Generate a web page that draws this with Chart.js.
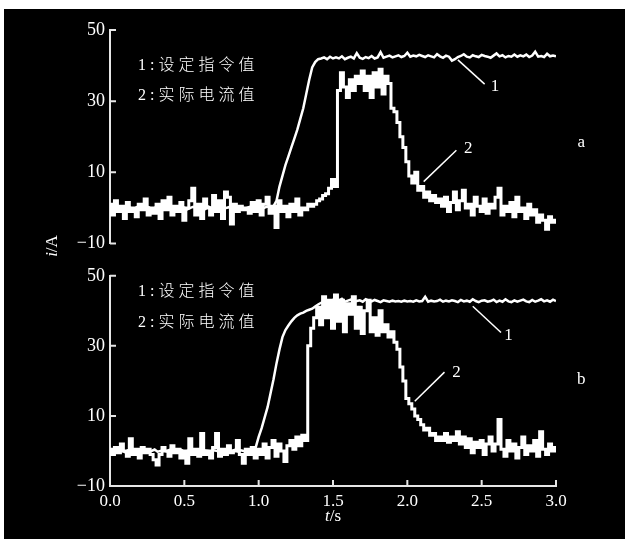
<!DOCTYPE html>
<html><head><meta charset="utf-8">
<script src="https://cdn.jsdelivr.net/npm/chart.js@4.4.1/dist/chart.umd.min.js"></script>
<style>
html,body{margin:0;padding:0;background:#fff;width:625px;height:539px;overflow:hidden;position:relative}
#bg{position:absolute;left:4px;top:9px;width:621px;height:530px;background:#000}
canvas{position:absolute;left:0}
#c1{top:0}
#c2{top:260px}
.txt{position:absolute;color:#fff;font-family:"Liberation Serif","Noto Sans CJK SC",serif;white-space:nowrap}
.leg{font-size:16px;letter-spacing:4px;line-height:20px;left:138px;font-weight:300}
.ax{font-size:17px;width:50px;height:20px;line-height:20px;text-align:center}
</style></head>
<body>
<div id="bg"></div>
<canvas id="c1" width="625" height="260"></canvas>
<canvas id="c2" width="625" height="279"></canvas>
<div class="txt leg" style="top:55px">1:设定指令值</div>
<div class="txt leg" style="top:85px">2:实际电流值</div>
<div class="txt leg" style="top:281px">1:设定指令值</div>
<div class="txt leg" style="top:312px">2:实际电流值</div>
<div class="txt ax" style="left:27px;top:236px;transform:rotate(-90deg)"><i>i</i>/A</div>
<div class="txt ax" style="left:308px;top:506px"><i>t</i>/s</div>
<script>
// time (s)
const time = [
0,0.02,0.04,0.06,0.08,0.1,0.12,0.14,0.16,0.18,
0.2,0.22,0.24,0.26,0.28,0.3,0.32,0.34,0.36,0.38,
0.4,0.42,0.44,0.46,0.48,0.5,0.52,0.54,0.56,0.58,
0.6,0.62,0.64,0.66,0.68,0.7,0.72,0.74,0.76,0.78,
0.8,0.82,0.84,0.86,0.88,0.9,0.92,0.94,0.96,0.98,
1,1.02,1.04,1.06,1.08,1.1,1.12,1.14,1.16,1.18,
1.2,1.22,1.24,1.26,1.28,1.3,1.32,1.34,1.36,1.38,
1.4,1.42,1.44,1.46,1.48,1.5,1.52,1.54,1.56,1.58,
1.6,1.62,1.64,1.66,1.68,1.7,1.72,1.74,1.76,1.78,
1.8,1.82,1.84,1.86,1.88,1.9,1.92,1.94,1.96,1.98,
2,2.02,2.04,2.06,2.08,2.1,2.12,2.14,2.16,2.18,
2.2,2.22,2.24,2.26,2.28,2.3,2.32,2.34,2.36,2.38,
2.4,2.42,2.44,2.46,2.48,2.5,2.52,2.54,2.56,2.58,
2.6,2.62,2.64,2.66,2.68,2.7,2.72,2.74,2.76,2.78,
2.8,2.82,2.84,2.86,2.88,2.9,2.92,2.94,2.96,2.98,
3];

// panel a: 1 = set command value, 2 = actual current (A)
const setA = [
0,0.3,-0.2,0,0.4,-0.3,0.1,0,-0.4,0.2,
0,0.3,-0.1,0.2,-0.3,0,0.4,-0.2,0.1,0,
-0.3,0.2,0,0.3,-0.2,0.1,-0.4,0,0.3,-0.1,
0.2,0,-0.3,0.4,0,-0.2,0.1,0.3,-0.1,0,
0.2,-0.3,0,0.1,0.4,-0.2,0,0.3,-0.1,0.2,
0,-0.3,0.1,0.4,0,0.5,2,6,9,12,
14.5,17,19.5,22,25,28,32,36,39.5,41,
41.8,42,42.3,41.8,42.5,42,42.3,42.0,42.6,41.8,
42.2,42.5,42.0,43.5,42.2,41.9,42.4,42.1,42.7,42.0,
42.3,43.8,42.2,42.5,42.8,42.3,42.6,42.9,42.4,42.7,
43.6,42.5,42.8,42.6,43.0,42.7,42.4,42.9,42.6,42.3,
43.2,42.6,42.2,42.8,42.5,41.4,41.8,42.4,42.7,43.2,
42.5,42.3,42.9,42.6,42.4,43.0,42.7,42.5,42.2,42.8,
43.4,42.6,42.9,42.3,42.7,42.5,43.1,42.5,42.9,42.6,
43.1,42.4,42.8,43.9,42.5,42.7,42.4,43.3,42.6,42.8,
42.6];
const actA = [
1,-2,2,-1,0.5,-3,1.5,-1,0,-2.5,
1,-0.5,2.5,-2,0,-1.5,1,-3,2,-0.5,
3,-2,0.5,-1,1.5,-3.5,0,2,5.5,-2,
1,-3,2.5,0,-2,3.5,-1,2,-3,4.5,
3,-4.5,1,-1,0.5,-0.5,0,-1.5,1.5,-1,
2,-2,1,3,-1.5,0.5,-5.5,2,-1,0.5,
-2.5,1,-1,2.5,-2,0,-0.5,1,0.5,1,
2,2.5,3.5,4,5.5,8,6,33,38,34,
31,36,33,37,35,38.5,33,37,31,38,
34,39,32,37,35,28,27,24,20,17,
13,9,7,10,5,6,3,4.5,2,3.5,
1.5,2.5,0.5,3,-1,1.5,4.5,-0.5,2,5,
0,1,-2,3,0.5,-1,2.5,-1.5,1,0,
3,5.5,-2,0.5,-1,1.5,-2.5,3,-1,0,
-3,1,-2,-0.5,-4,-2,-3.5,-6,-2.5,-4,
-3.5];

// panel b
const setB = [
0,-0.2,0.3,0,0.1,-0.3,0.2,0,-0.1,0.3,
0,0.2,-0.3,0.1,0,0.4,-0.2,0,0.2,-0.1,
0.3,0,-0.2,0.1,0.3,-0.3,0,0.2,-0.1,0,
0.4,-0.2,0.1,0,-0.3,0.2,0,0.3,-0.1,0.1,
-0.2,0,0.3,-0.1,0.2,0,-0.3,0.1,0.2,1,
4,6.5,9.5,12.5,16.5,20.5,25,29,32.5,34.5,
35.8,37,38,38.7,39.2,39.5,40,40.3,40.6,41.2,
41.8,42.3,42.6,42.8,42.5,43.1,42.7,42.9,43.4,42.6,
42.9,43.2,42.7,42.8,43.0,42.6,43.3,42.9,42.7,43.1,
42.8,42.5,43.0,42.8,42.6,42.9,42.7,42.8,42.6,42.9,
42.7,42.8,42.6,43.0,42.7,42.8,44.0,42.6,42.9,42.7,
42.8,43.2,42.6,42.9,42.7,43.0,42.8,42.5,43.1,42.7,
42.9,42.6,43.3,42.8,42.5,42.9,43.0,42.6,42.8,43.2,
42.5,42.9,42.6,43.3,42.7,42.5,43.0,42.6,42.9,43.2,
42.7,42.5,43.1,42.6,42.9,43.3,42.7,43.0,42.6,43.2,
42.8];
const actB = [
0.5,-1,1,-0.5,2,0,-1.5,3.5,-1,0.5,
-2,1,-0.5,0.5,-1,-2.5,-4,-1,1,0,
-1.5,1.5,-0.5,0.5,-2,0,-3.5,3.5,-1,0.5,
-1.5,5,-1,0,-2,1,5,-1.5,0.5,-1,
1.5,-0.5,0,3,-1,-3.5,0.5,-1,1,-2,
0.5,-1,2,-2,1,3,-1.5,2,0,-3,
1.5,3,0.5,4,1.5,4.5,3,30,35,38,
41,36,44,38,43,35,44.5,37,43,34,
42,39,44,35,41,33.5,40,43,34,38,
33,40,34,36,32.5,34,31,29,24,20,
15,13.5,12,10,9,7.5,6,6.5,4.5,5,
3,4,3,5,2.5,4,3,5.5,2,4,
1,3.5,-0.5,2.5,1,3,-1,2,4,0,
2,9,0.5,-1.5,3,0,2,-2,1,4,
-1,1.5,0,3,-1.5,5.5,0.5,-1,2,0,
1];

const yTicks = [-10, 10, 30, 50];
const xTicks = [0, 0.5, 1, 1.5, 2, 2.5, 3];

// annotations: [t, i] in data units
const notesA = {
  lines: [[2.34, 41.6, 2.52, 34.8], [2.33, 16.2, 2.11, 7.4]],
  labels: [['1', 2.59, 34], ['2', 2.41, 16.8], ['a', 3.17, 18.3]]
};
const notesB = {
  lines: [[2.44, 41.3, 2.63, 33.8], [2.25, 22.5, 2.05, 14.2]],
  labels: [['1', 2.68, 32.9], ['2', 2.33, 22.5], ['b', 3.17, 20.3]]
};

const AXIS = '#e6e6e6';
const SERIF = '"Liberation Serif", "Times New Roman", serif';

function pts(vs){ return time.map((t,i)=>({x:t, y:vs[i]})); }
function ds(vs, w, stepped){ return {data: pts(vs), borderColor:'#fff', borderWidth:w, pointRadius:0, tension:0, fill:false, stepped:stepped}; }

function tickPlugin(drawX){
  return {id:'inTicks', afterDraw(chart){
    const {ctx, chartArea:a, scales} = chart;
    ctx.save(); ctx.strokeStyle = AXIS; ctx.lineWidth = 2; ctx.beginPath();
    yTicks.forEach(v=>{ const y = scales.y.getPixelForValue(v); ctx.moveTo(a.left, y); ctx.lineTo(a.left+6, y); });
    if (drawX) xTicks.forEach(v=>{ const x = scales.x.getPixelForValue(v); ctx.moveTo(x, a.bottom); ctx.lineTo(x, a.bottom-6); });
    ctx.stroke(); ctx.restore();
  }};
}
function notePlugin(notes){
  return {id:'notes', afterDatasetsDraw(chart){
    const {ctx, scales:{x, y}} = chart;
    ctx.save(); ctx.strokeStyle = '#fff'; ctx.lineWidth = 1.5; ctx.fillStyle = '#fff';
    ctx.font = '17px ' + SERIF; ctx.textAlign = 'center'; ctx.textBaseline = 'middle';
    notes.lines.forEach(l=>{ ctx.beginPath(); ctx.moveTo(x.getPixelForValue(l[0]), y.getPixelForValue(l[1])); ctx.lineTo(x.getPixelForValue(l[2]), y.getPixelForValue(l[3])); ctx.stroke(); });
    notes.labels.forEach(l=>{ ctx.fillText(l[0], x.getPixelForValue(l[1]), y.getPixelForValue(l[2])); });
    ctx.restore();
  }};
}

function config(setV, actV, showX, padding, notes){
  return {
    type:'line',
    data:{datasets:[ds(setV, 2.5, false), ds(actV, 3, 'middle')]},
    options:{
      responsive:false, animation:false, events:[],
      layout:{padding},
      plugins:{legend:{display:false}, tooltip:{enabled:false}},
      scales:{
        x:{type:'linear', min:0, max:3, display:showX,
           grid:{display:false, drawTicks:false},
           border:{display:true, color:AXIS, width:2},
           ticks:{stepSize:0.5, autoSkip:false, maxRotation:0, color:'#fff', padding:5,
                  font:{family:SERIF, size:17}, callback:v=>Number(v).toFixed(1)},
           afterFit(s){ s.height = showX ? 53 : 0; }},
        y:{type:'linear', min:-10, max:50,
           grid:{display:false, drawTicks:false},
           border:{display:true, color:AXIS, width:2},
           ticks:{stepSize:20, color:'#fff', padding:5, font:{family:SERIF, size:18},
                  callback:v=> v<0 ? '\u2212'+Math.abs(v) : String(v)},
           afterFit(s){ s.width = 110; }}
      }
    },
    plugins:[tickPlugin(showX), notePlugin(notes)]
  };
}

new Chart(document.getElementById('c1'), config(setA, actA, false, {left:0, right:69, top:30, bottom:16.5}, notesA));
new Chart(document.getElementById('c2'), config(setB, actB, true, {left:0, right:69, top:12, bottom:0}, notesB));
</script>
</body></html>
